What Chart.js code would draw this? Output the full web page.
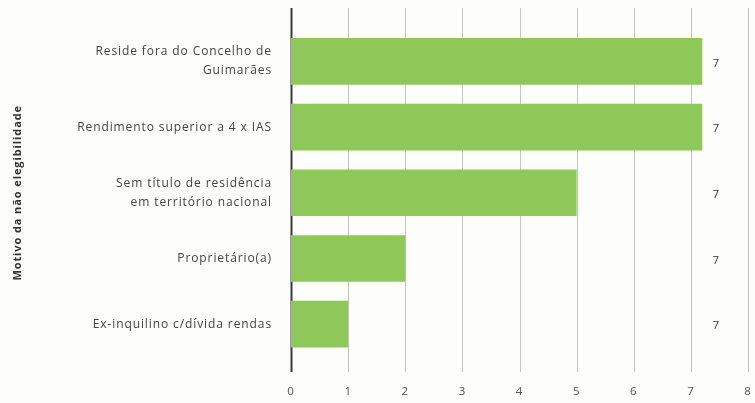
<!DOCTYPE html>
<html>
<head>
<meta charset="utf-8">
<script src="https://cdn.jsdelivr.net/npm/chart.js@4"></script>
<style>
  html, body { margin: 0; padding: 0; background: #fdfdfc; }
  #wrap { width: 755px; height: 403px; }
</style>
</head>
<body>
<div id="wrap"><canvas id="chart" width="755" height="403"></canvas></div>
<script>
// categorias (com quebras de linha como no original)
const categories = [
    ['Reside fora do Concelho de', 'Guimarães'],
    'Rendimento superior a 4 x IAS',
    ['Sem título de residência', 'em território nacional'],
    'Proprietário(a)',
    'Ex-inquilino c/dívida rendas'
];
const values = [7.2, 7.2, 5, 2, 1];
const valueLabels = ['7', '7', '7', '7', '7'];
const axisTitle = 'Motivo da não elegibilidade';

const FONT = "'Open Sans', sans-serif";

// texto com espaçamento entre letras, como no relatório
const spacingPlugin = {
    id: 'spacing',
    beforeUpdate(chart) { chart.ctx.letterSpacing = '0.9px'; },
    beforeLayout(chart) { chart.ctx.letterSpacing = '0.9px'; },
    beforeDraw(chart) { chart.ctx.letterSpacing = '0.9px'; }
};

// linhas verticais da grelha, mais compridas que a área do gráfico
const gridPlugin = {
    id: 'longGrid',
    beforeDatasetsDraw(chart) {
        const ctx = chart.ctx;
        const x = chart.scales.x;
        ctx.save();
        x.ticks.forEach(t => {
            const px = Math.round(x.getPixelForValue(t.value)) + 0.5;
            ctx.beginPath();
            ctx.strokeStyle = t.value === 0 ? '#3a3a3a' : '#c4c4c4';
            ctx.lineWidth = t.value === 0 ? 2 : 1;
            ctx.moveTo(px, 8);
            ctx.lineTo(px, 372);
            ctx.stroke();
        });
        ctx.restore();
    }
};

// o "7" à direita de cada barra
const labelPlugin = {
    id: 'valueLabels',
    afterDatasetsDraw(chart) {
        const ctx = chart.ctx;
        const x = chart.scales.x;
        const meta = chart.getDatasetMeta(0);
        ctx.save();
        ctx.fillStyle = '#333';
        ctx.font = '11px ' + FONT;
        ctx.textAlign = 'center';
        ctx.textBaseline = 'middle';
        meta.data.forEach((bar, i) => {
            ctx.fillText(valueLabels[i], x.getPixelForValue(7.2) + 14, bar.y + 2);
        });
        ctx.restore();
    }
};

const ctx = document.getElementById('chart').getContext('2d');
const chart = new Chart(ctx, {
    type: 'bar',
    data: {
        labels: categories,
        datasets: [{
            data: values,
            backgroundColor: '#8dc858',
            borderWidth: 0,
            categoryPercentage: 1,
            barPercentage: 0.71
        }]
    },
    options: {
        indexAxis: 'y',
        responsive: false,
        animation: false,
        layout: { padding: { left: 0, right: 7, top: 27, bottom: 0 } },
        plugins: {
            legend: { display: false },
            tooltip: { enabled: false }
        },
        scales: {
            x: {
                min: 0,
                max: 8,
                ticks: {
                    stepSize: 1,
                    padding: 20,
                    color: '#555',
                    font: { family: FONT, size: 11.5 }
                },
                grid: { display: false },
                border: { display: false },
                afterFit(scale) {
                    scale.height = 46;
                    scale.paddingLeft = 0;
                    scale.paddingRight = 0;
                }
            },
            y: {
                ticks: {
                    color: '#444',
                    padding: 19,
                    font: { family: FONT, size: 12, lineHeight: 1.6 }
                },
                grid: { display: false, drawTicks: false },
                border: { display: false },
                title: {
                    display: true,
                    text: axisTitle,
                    color: '#333',
                    padding: { top: 11, bottom: 0 },
                    font: { family: FONT, size: 11, weight: 'bold' }
                },
                afterFit(scale) { scale.width = 291; }
            }
        }
    },
    plugins: [spacingPlugin, gridPlugin, labelPlugin]
});
</script>
</body>
</html>
